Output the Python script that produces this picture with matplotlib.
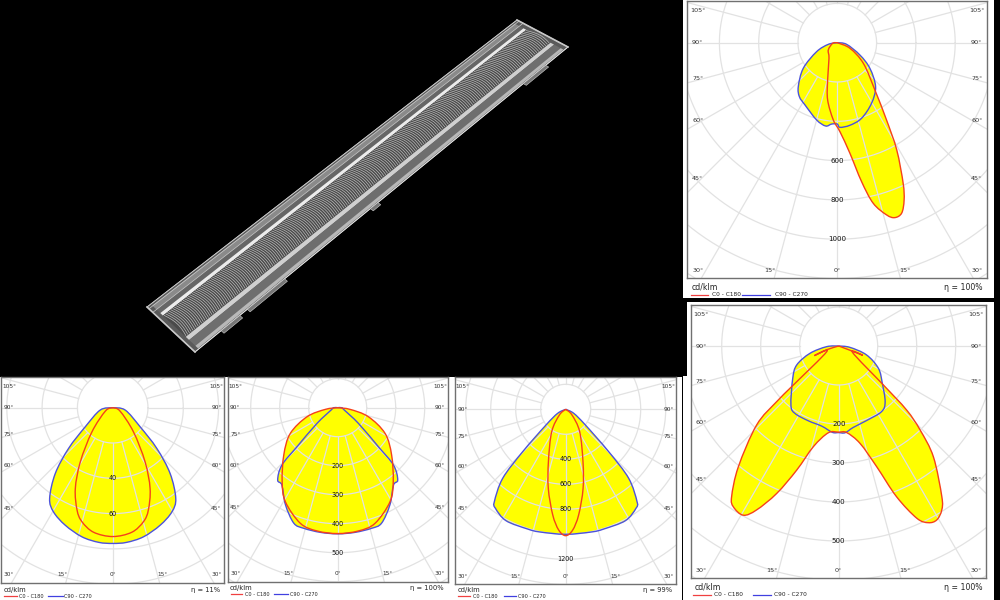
import numpy as np
import matplotlib
matplotlib.use("Agg")
import matplotlib.pyplot as plt
from matplotlib.patches import Rectangle, Polygon, PathPatch
from matplotlib.path import Path
from matplotlib.collections import LineCollection

# Values: gamma in degrees, intensity in cd/klm.
a_red_deg = [66, 51.5, 38.5, 32.5, 29, 25.1, 23, 20.7, 18.2, 16, 12.6, 9.9, 6.5, 1.7, -3, -9.6, -14.5, -28, -51, -82]
a_red_val = [71, 170, 307, 466, 624, 790, 870, 927, 937, 912, 837, 717, 566, 453, 393, 295, 197, 90, 59, 24]
a_blue_deg = [80, 61.4, 51.8, 41, 29.5, 17.8, 8.7, 1.8, 0, -4, -8, -15, -27.4, -35, -41.6, -53, -66.5, -79.5]
a_blue_val = [48, 131, 211, 297, 354, 404, 425, 431, 414, 415, 428, 407, 357, 336, 299, 217, 115, 47]

b_red_deg = [69.3, 68.7, 64.5, 48.9, 46.7, 44.1, 40.5, 34.4, 32.1, 29.4, 26.9, 24.4, 21, 17.5, 12.4, 5.3, 0, -6.8, -14.1,
             -18.7, -22.8, -26.6, -29.4, -33.2, -35.4, -39.7, -46.1, -48.1, -49.3, -64.7, -68.3, -72.5]
b_red_val = [34, 66, 40, 152, 239, 300, 374, 468, 497, 512, 508, 485, 414, 325, 256, 223, 221, 224, 266,
             336, 410, 470, 498, 493, 474, 403, 292, 214, 153, 34, 67, 34]
b_blue_deg = [83, 72.2, 60.6, 49.5, 39.8, 33.2, 20.6, 10.2, 4.2, 0, -4.2, -12, -22.1, -33, -38.9, -54.9, -65.7, -75.7, -86.8]
b_blue_val = [29, 75, 117, 147, 186, 201, 204, 212, 223, 222, 222, 210, 207, 206, 195, 144, 118, 76, 31]

# these three are symmetric, only the right half is listed
c_red_deg = [65.6, 40.7, 30.9, 24.8, 19.2, 15.1, 8.7, 0]
c_red_val = [4.5, 18, 35.7, 50.5, 61.4, 66.9, 71.4, 73]
c_blue_deg = [79.3, 55.2, 47.3, 41.1, 34.8, 29.6, 22, 13.4, 5.9, 0]
c_blue_val = [7.2, 18.9, 34, 49.5, 62.6, 67.9, 71.8, 75.2, 76.7, 76.9]

d_red_deg = [82.3, 73.6, 61.5, 48.8, 36.9, 29.1, 17.9, 9.5, 0]
d_red_val = [43, 110, 186, 247, 319, 371, 419, 431, 434]
d_blue_deg = [90, 70.7, 52.8, 46.2, 44.2, 39.7, 35.8, 28.3, 20.8, 15.7, 7.9, 0]
d_blue_val = [14, 24, 90, 194, 276, 324, 329, 380, 426, 432, 434, 435]

e_red_deg = [48, 32, 18.3, 12.4, 7, 3.3, 0]
e_red_val = [67, 211, 440, 648, 851, 968, 1011]
e_blue_deg = [63.4, 51.5, 45.4, 42.4, 37.7, 35.4, 28.2, 17.6, 12.1, 0]
e_blue_val = [72, 200, 483, 747, 933, 971, 1011, 1005, 1003, 1000]

a_grid = [200, 400, 600, 800, 1000, 1200, 1400]
a_labels = [600, 800, 1000]
b_grid = [100, 200, 300, 400, 500, 600, 700]
b_labels = [200, 300, 400, 500]
c_grid = [20, 40, 60, 80, 100, 120]
c_labels = [40, 60]
d_grid = [100, 200, 300, 400, 500, 600, 700]
d_labels = [200, 300, 400, 500]
e_grid = [200, 400, 600, 800, 1000, 1200, 1400]
e_labels = [400, 600, 800, 1200]

side_angles = [105, 90, 75, 60, 45]
legend_names = ["C0 - C180", "C90 - C270"]

YELLOW = "#ffff00"
RED = "#f5401c"
BLUE = "#4c52dc"
GRID = "#e2e2e2"

fig = plt.figure(figsize=(10, 6), dpi=100, facecolor="black")


def px_axes(z):
    # whole figure axes in pixel units, y going down
    ax = fig.add_axes([0, 0, 1, 1], zorder=z)
    ax.set_xlim(0, 1000)
    ax.set_ylim(600, 0)
    ax.axis("off")
    return ax


back = px_axes(0)
front = px_axes(5)


def mirror(deg, val):
    deg = np.array(deg)
    val = np.array(val)
    return np.r_[deg, -deg[-2::-1]], np.r_[val, val[-2::-1]]


def curve_path(deg, val):
    # smooth bezier through the read points, starts and ends at the origin
    g = np.radians(deg)
    val = np.asarray(val)
    pts = np.c_[np.r_[0, val * np.sin(g), 0], np.r_[0, val * np.cos(g), 0]]
    prev = np.vstack([pts[0], pts[:-1]])
    nxt = np.vstack([pts[1:], pts[-1]])
    tan = (nxt - prev) / 6
    verts = [pts[0]]
    codes = [Path.MOVETO]
    for i in range(len(pts) - 1):
        verts += [pts[i] + tan[i], pts[i + 1] - tan[i + 1], pts[i + 1]]
        codes += [Path.CURVE4] * 3
    return Path(np.array(verts), codes)


def panel(frame, origin, scale, red, blue, grid, labels, eta, foot, big=False):
    left, top, right, bottom = frame
    ox, oy = origin
    ax = fig.add_axes([left / 1000, 1 - bottom / 600, (right - left) / 1000, (bottom - top) / 600], zorder=2)
    ax.set_xlim((left - ox) / scale, (right - ox) / scale)
    ax.set_ylim((bottom - oy) / scale, (top - oy) / scale)
    ax.set_xticks([])
    ax.set_yticks([])
    for s in ax.spines.values():
        s.set_color("#707070")
        s.set_linewidth(1.0)

    red_path = curve_path(*red)
    blue_path = curve_path(*blue)
    for p in (blue_path, red_path):
        ax.add_patch(PathPatch(p, facecolor=YELLOW, edgecolor="none", lw=0, zorder=1))

    # polar grid, spokes start on the first circle
    t = np.linspace(0, 2 * np.pi, 361)
    for r in grid:
        ax.plot(r * np.cos(t), r * np.sin(t), color=GRID, lw=0.9, zorder=2)
    for a in range(0, 360, 15):
        g = np.radians(a)
        ax.plot([grid[0] * np.sin(g), grid[-1] * 2 * np.sin(g)],
                [grid[0] * np.cos(g), grid[-1] * 2 * np.cos(g)], color=GRID, lw=0.9, zorder=2)

    ax.add_patch(PathPatch(blue_path, facecolor="none", edgecolor=BLUE, lw=1.0, zorder=3))
    ax.add_patch(PathPatch(red_path, facecolor="none", edgecolor=RED, lw=1.0, zorder=4))

    fs = 4.6 if big else 4.2
    half = (right - left) / 2
    col = half * 0.93
    for a in side_angles:
        yy = oy + col / np.tan(np.radians(a)) * 0.97
        yy = max(yy, top + 9)
        for sign in (-1, 1):
            front.text(ox + sign * col, yy, f"{a}°", fontsize=fs, color="#333333", ha="center", va="center")
    yy = bottom - 8
    for dx, a in ((-col, 30), (-half * 0.45, 15), (0, 0), (half * 0.45, 15), (col, 30)):
        front.text(ox + dx, yy, f"{a}°", fontsize=fs, color="#333333", ha="center", va="center")
    for r in labels:
        front.text(ox, oy + r * scale, str(r), fontsize=fs + 0.5, color="#111111", ha="center", va="center")

    # footer under the plot
    unit_x, line_y, red_x0, red_x1, red_tx, blue_x0, blue_x1, blue_tx, text_y = foot
    tfs = 5.6 if big else 4.9
    lfs = 4.2 if big else 3.6
    back.text(unit_x, text_y, "cd/klm", fontsize=tfs, color="#222222", va="center")
    back.text(right - 4, text_y, f"η = {eta}%", fontsize=tfs, color="#222222", ha="right", va="center")
    back.plot([red_x0, red_x1], [line_y, line_y], color="#f04040", lw=0.9)
    back.text(red_tx, line_y, legend_names[0], fontsize=lfs, color="#222222", va="center")
    back.plot([blue_x0, blue_x1], [line_y, line_y], color="#4040e0", lw=0.9)
    back.text(blue_tx, line_y, legend_names[1], fontsize=lfs, color="#222222", va="center")


# white sheets behind the five diagrams
for x0, y0, x1, y1 in [(683, 0, 994, 298), (687, 302, 994, 376), (683, 376, 994, 600),
                       (0, 377, 226, 600), (226, 377, 453, 600), (453, 377, 682, 600)]:
    back.add_patch(Rectangle((x0, y0), x1 - x0, y1 - y0, color="white", lw=0, zorder=0))

panel((687, 1, 987, 278), (837.3, 42.7), 39.3 / 200, (a_red_deg, a_red_val), (a_blue_deg, a_blue_val),
      a_grid, a_labels, 100, (692, 295, 691, 708, 712, 742, 770, 775, 287), big=True)
panel((690.7, 305, 986, 578), (838.7, 346), 39 / 100, (b_red_deg, b_red_val), (b_blue_deg, b_blue_val),
      b_grid, b_labels, 100, (695, 595, 693, 711, 714, 753, 771, 774, 587), big=True)
panel((1, 377, 224, 583), (112.7, 407.7), 35.3 / 20, mirror(c_red_deg, c_red_val), mirror(c_blue_deg, c_blue_val),
      c_grid, c_labels, 11, (4, 596, 4, 17, 19, 48, 63, 64, 590))
panel((227.7, 377, 448, 581.7), (337.7, 407.7), 29 / 100, mirror(d_red_deg, d_red_val), mirror(d_blue_deg, d_blue_val),
      d_grid, d_labels, 100, (230, 594, 231, 242, 245, 274, 288, 290, 588))
panel((455, 377, 676, 584), (565.7, 409.3), 25 / 200, mirror(e_red_deg, e_red_val), mirror(e_blue_deg, e_blue_val),
      e_grid, e_labels, 99, (458, 596, 458, 470, 473, 504, 516, 518, 590))

# black strip that cuts the top legend
back.add_patch(Rectangle((683, 298), 311, 4, color="black", lw=0, zorder=6))

# lens photo redrawn with lines, u runs along the part and v across it
p0 = np.array([147, 307.0])
p1 = np.array([195, 352.0])
p2 = np.array([568, 47.0])
p3 = np.array([517, 20.0])


def lens(u, v):
    a = p0 + (p3 - p0) * u
    b = p1 + (p2 - p1) * u
    return a + (b - a) * v


back.add_patch(Polygon([p0, p1, p2, p3], closed=True, facecolor="#5a5a5a", edgecolor="#c0c0c0", lw=0.6, zorder=1))


def strip(v0, v1, color):
    back.add_patch(Polygon([lens(0.01, v0), lens(0.01, v1), lens(0.99, v1), lens(0.99, v0)],
                           closed=True, facecolor=color, lw=0, zorder=1))


strip(0.03, 0.12, "#8a8a8a")
strip(0.12, 0.20, "#666666")
strip(0.20, 0.255, "#ececec")
strip(0.255, 0.73, "#4a4a4a")
strip(0.73, 0.80, "#d0d0d0")
strip(0.80, 0.93, "#6e6e6e")
strip(0.93, 0.985, "#b8b8b8")

ribs = []
for u in np.linspace(0.012, 0.988, 210):
    vv = np.linspace(0.26, 0.72, 8)
    uu = u + 0.006 * np.sin((vv - 0.26) / 0.46 * np.pi)
    ribs.append(np.array([lens(a, b) for a, b in zip(uu, vv)]))
back.add_collection(LineCollection(ribs, colors="#bdbdbd", linewidths=0.5, zorder=2))

for v in (0.0, 0.04, 0.12):
    back.plot(*zip(lens(0, v), lens(1, v)), color="#cccccc", lw=0.5, zorder=3)
back.plot(*zip(lens(0, 1), lens(1, 1)), color="#e6e6e6", lw=0.6, zorder=3)
back.plot(*zip(lens(0, 0), lens(0, 1)), color="#c8c8c8", lw=1.2, zorder=3)
back.plot(*zip(lens(1, 0), lens(1, 1)), color="#c8c8c8", lw=1.2, zorder=3)

# tabs along the lower edge
for u0, u1 in [(0.07, 0.12), (0.14, 0.24), (0.47, 0.49), (0.88, 0.94)]:
    back.add_patch(Polygon([lens(u0, 1), lens(u1, 1), lens(u1, 1.06), lens(u0, 1.06)],
                           closed=True, facecolor="#777777", edgecolor="#d0d0d0", lw=0.4, zorder=3))

fig.savefig("out.png", dpi=100, facecolor="black")
